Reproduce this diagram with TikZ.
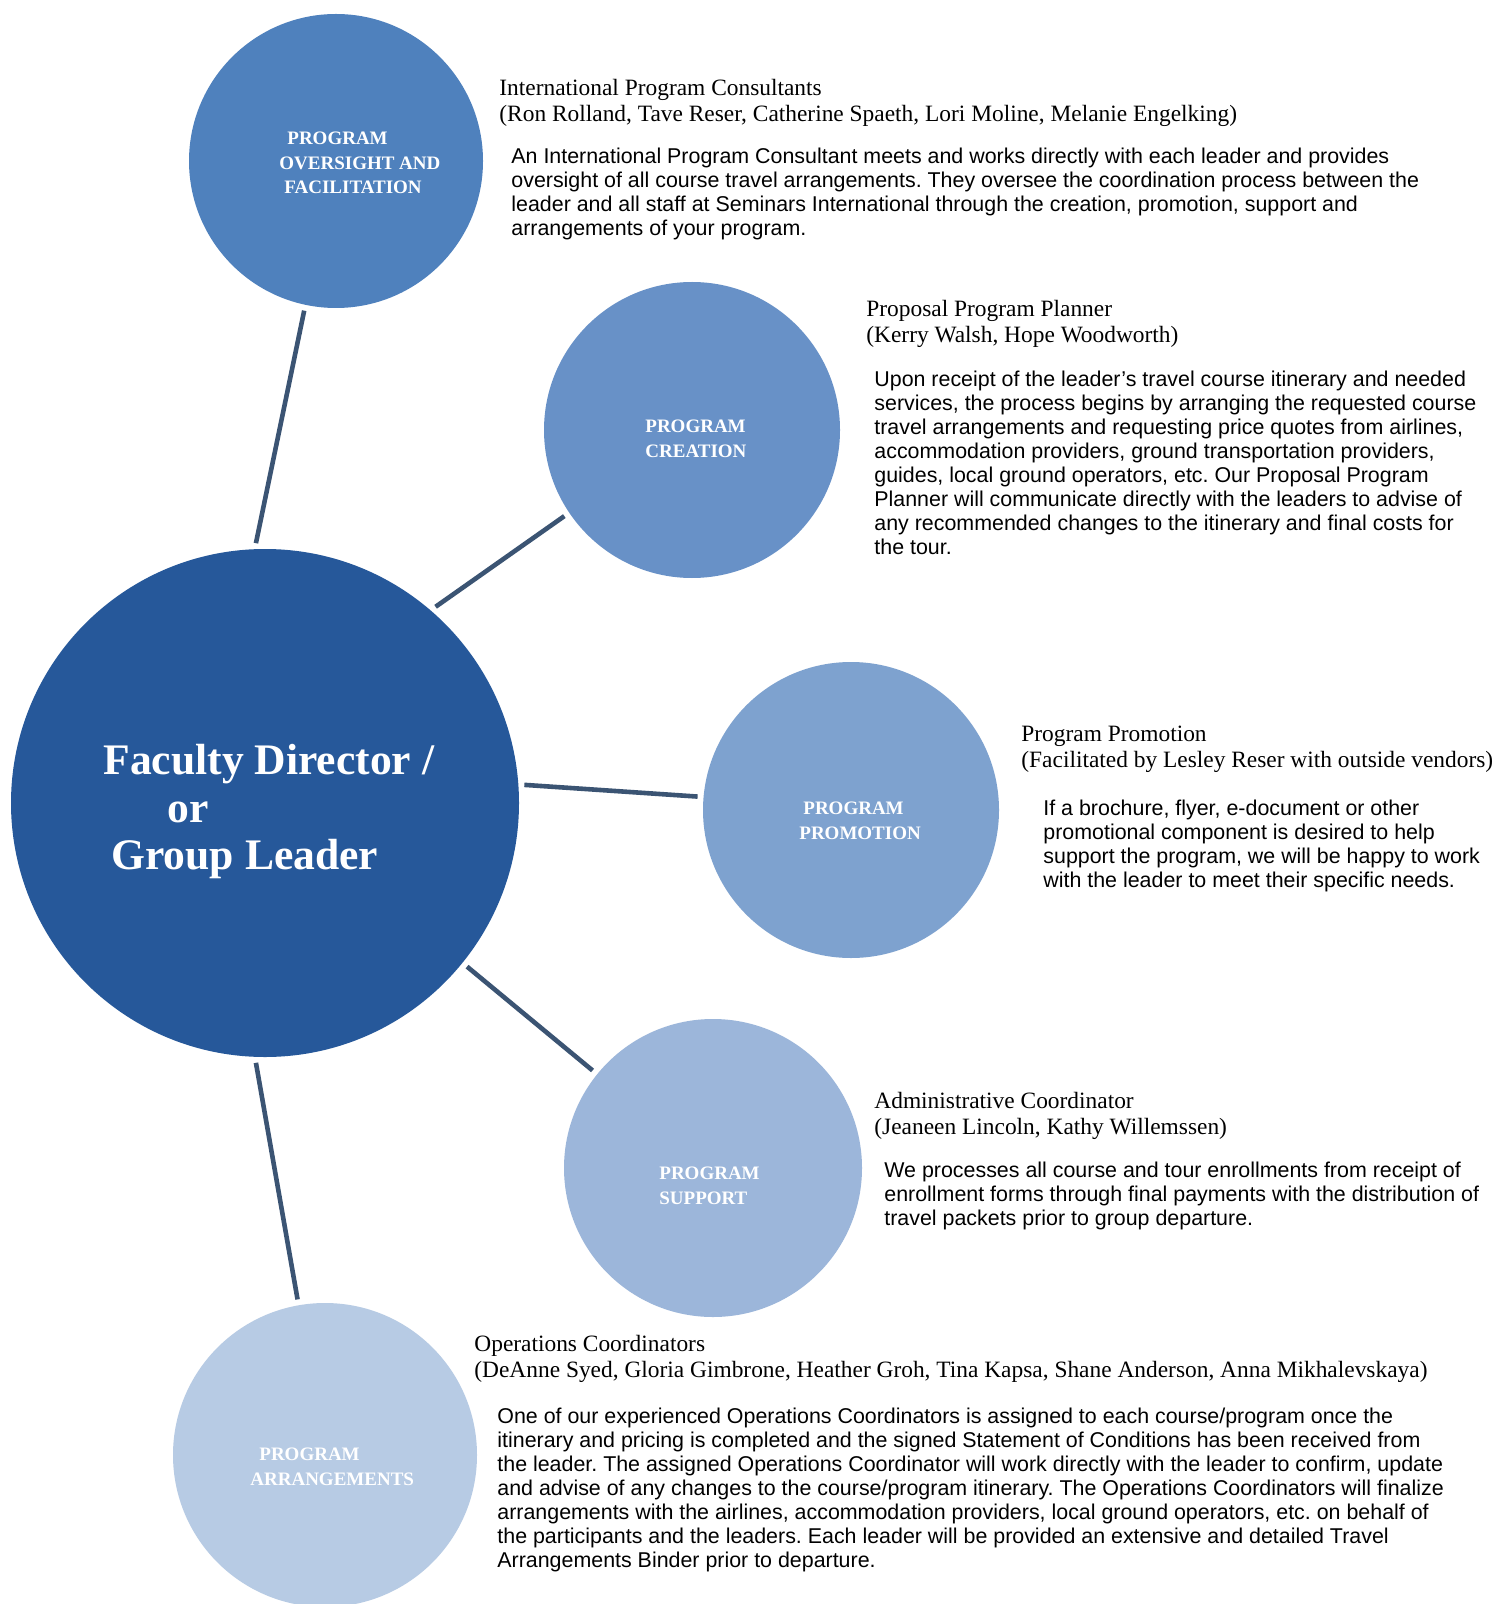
\documentclass[tikz,border=0pt]{standalone}
\usepackage{fontspec}
\setmainfont{Liberation Serif}
\newfontfamily\bodyfont{Liberation Sans}
\newfontfamily\headfont{Liberation Serif}
\definecolor{cmain}{HTML}{26589A}
\definecolor{cone}{HTML}{4F81BD}
\definecolor{ctwo}{HTML}{6891C7}
\definecolor{cthree}{HTML}{7EA2CF}
\definecolor{cfour}{HTML}{9CB6DA}
\definecolor{cfive}{HTML}{B7CBE4}
\definecolor{linkc}{HTML}{3B5473}
\begin{document}
\frenchspacing
\begin{tikzpicture}[x=0.5pt,y=-0.5pt,
  bub/.style={circle, inner sep=0pt, outer sep=3pt, draw=none},
  link/.style={draw=linkc, line width=2.3pt},
  clabel/.style={text=white, font=\bfseries\fontsize{9.5}{12.25}\selectfont, align=left, anchor=north west, inner sep=0pt},
  mlabel/.style={text=white, font=\bfseries\fontsize{21.8}{23.75}\selectfont, align=left, anchor=north west, inner sep=0pt},
  head/.style={font=\headfont\fontsize{11.7}{13}\selectfont, align=left, anchor=north west, inner sep=0pt},
  body/.style={font=\bodyfont\fontsize{10.7}{12}\selectfont, align=left, anchor=north west, inner sep=0pt}]
\useasboundingbox (0,0) rectangle (1509,1604);
\fill[white] (0,0) rectangle (1509,1604);

% circles
\node[bub, fill=cmain, minimum size=254pt] (main) at (265,803) {};
\node[bub, fill=cone, minimum size=147pt] (c1) at (336,161) {};
\node[bub, fill=ctwo, minimum size=148pt] (c2) at (692,430) {};
\node[bub, fill=cthree, minimum size=148pt] (c3) at (851,810) {};
\node[bub, fill=cfour, minimum size=149pt] (c4) at (713,1168) {};
\node[bub, fill=cfive, minimum size=152pt] (c5) at (325,1455) {};

% connectors
\draw[link] (main.92.4) -- (c1.258.6);
\draw[link] (main.49.4) -- (c2.214.4);
\draw[link] (main.4.2) -- (c3.175.5);
\draw[link] (main.-39.6) -- (c4.141.9);
\draw[link] (main.268.3) -- (c5.100.4);

% circle labels
\node[mlabel] (mainlab) at (103,744) {Faculty Director /\\\hspace*{32pt}or\\\hspace*{4pt}Group Leader};
\node[clabel] (lab1) at (279,132) {\hspace*{4pt}PROGRAM\\OVERSIGHT AND\\\hspace*{2.5pt}FACILITATION};
\node[clabel] (lab2) at (645,420) {PROGRAM\\CREATION};
\node[clabel] (lab3) at (799,802) {\hspace*{2pt}PROGRAM\\PROMOTION};
\node[clabel] (lab4) at (659,1167) {PROGRAM\\SUPPORT};
\node[clabel] (lab5) at (250,1448) {\hspace*{4.5pt}PROGRAM\\ARRANGEMENTS};

% text blocks
\node[head] (h1) at (499,79) {International Program Consultants\\(Ron Rolland, Tave Reser, Catherine Spaeth, Lori Moline, Melanie Engelking)};
\node[body] (b1) at (511,148) {An International Program Consultant meets and works directly with each leader and provides\\oversight of all course travel arrangements. They oversee the coordination process between the\\leader and all staff at Seminars International through the creation, promotion, support and\\arrangements of your program.};

\node[head] (h2) at (866,300) {Proposal Program Planner\\(Kerry Walsh, Hope Woodworth)};
\node[body] (b2) at (874,371) {Upon receipt of the leader’s travel course itinerary and needed\\services, the process begins by arranging the requested course\\travel arrangements and requesting price quotes from airlines,\\accommodation providers, ground transportation providers,\\guides, local ground operators, etc. Our Proposal Program\\Planner will communicate directly with the leaders to advise of\\any recommended changes to the itinerary and final costs for\\the tour.};

\node[head] (h3) at (1021,726) {Program Promotion\\(Facilitated by Lesley Reser with outside vendors)};
\node[body] (b3) at (1043,800) {If a brochure, flyer, e-document or other\\promotional component is desired to help\\support the program, we will be happy to work\\with the leader to meet their specific needs.};

\node[head] (h4) at (874,1092) {Administrative Coordinator\\(Jeaneen Lincoln, Kathy Willemssen)};
\node[body] (b4) at (884,1162) {We processes all course and tour enrollments from receipt of\\enrollment forms through final payments with the distribution of\\travel packets prior to group departure.};

\node[head] (h5) at (474,1335) {Operations Coordinators\\(DeAnne Syed, Gloria Gimbrone, Heather Groh, Tina Kapsa, Shane Anderson, Anna Mikhalevskaya)};
\node[body] (b5) at (497,1408) {One of our experienced Operations Coordinators is assigned to each course/program once the\\itinerary and pricing is completed and the signed Statement of Conditions has been received from\\the leader. The assigned Operations Coordinator will work directly with the leader to confirm, update\\and advise of any changes to the course/program itinerary. The Operations Coordinators will finalize\\arrangements with the airlines, accommodation providers, local ground operators, etc. on behalf of\\the participants and the leaders. Each leader will be provided an extensive and detailed Travel\\Arrangements Binder prior to departure.};
\end{tikzpicture}
\end{document}
